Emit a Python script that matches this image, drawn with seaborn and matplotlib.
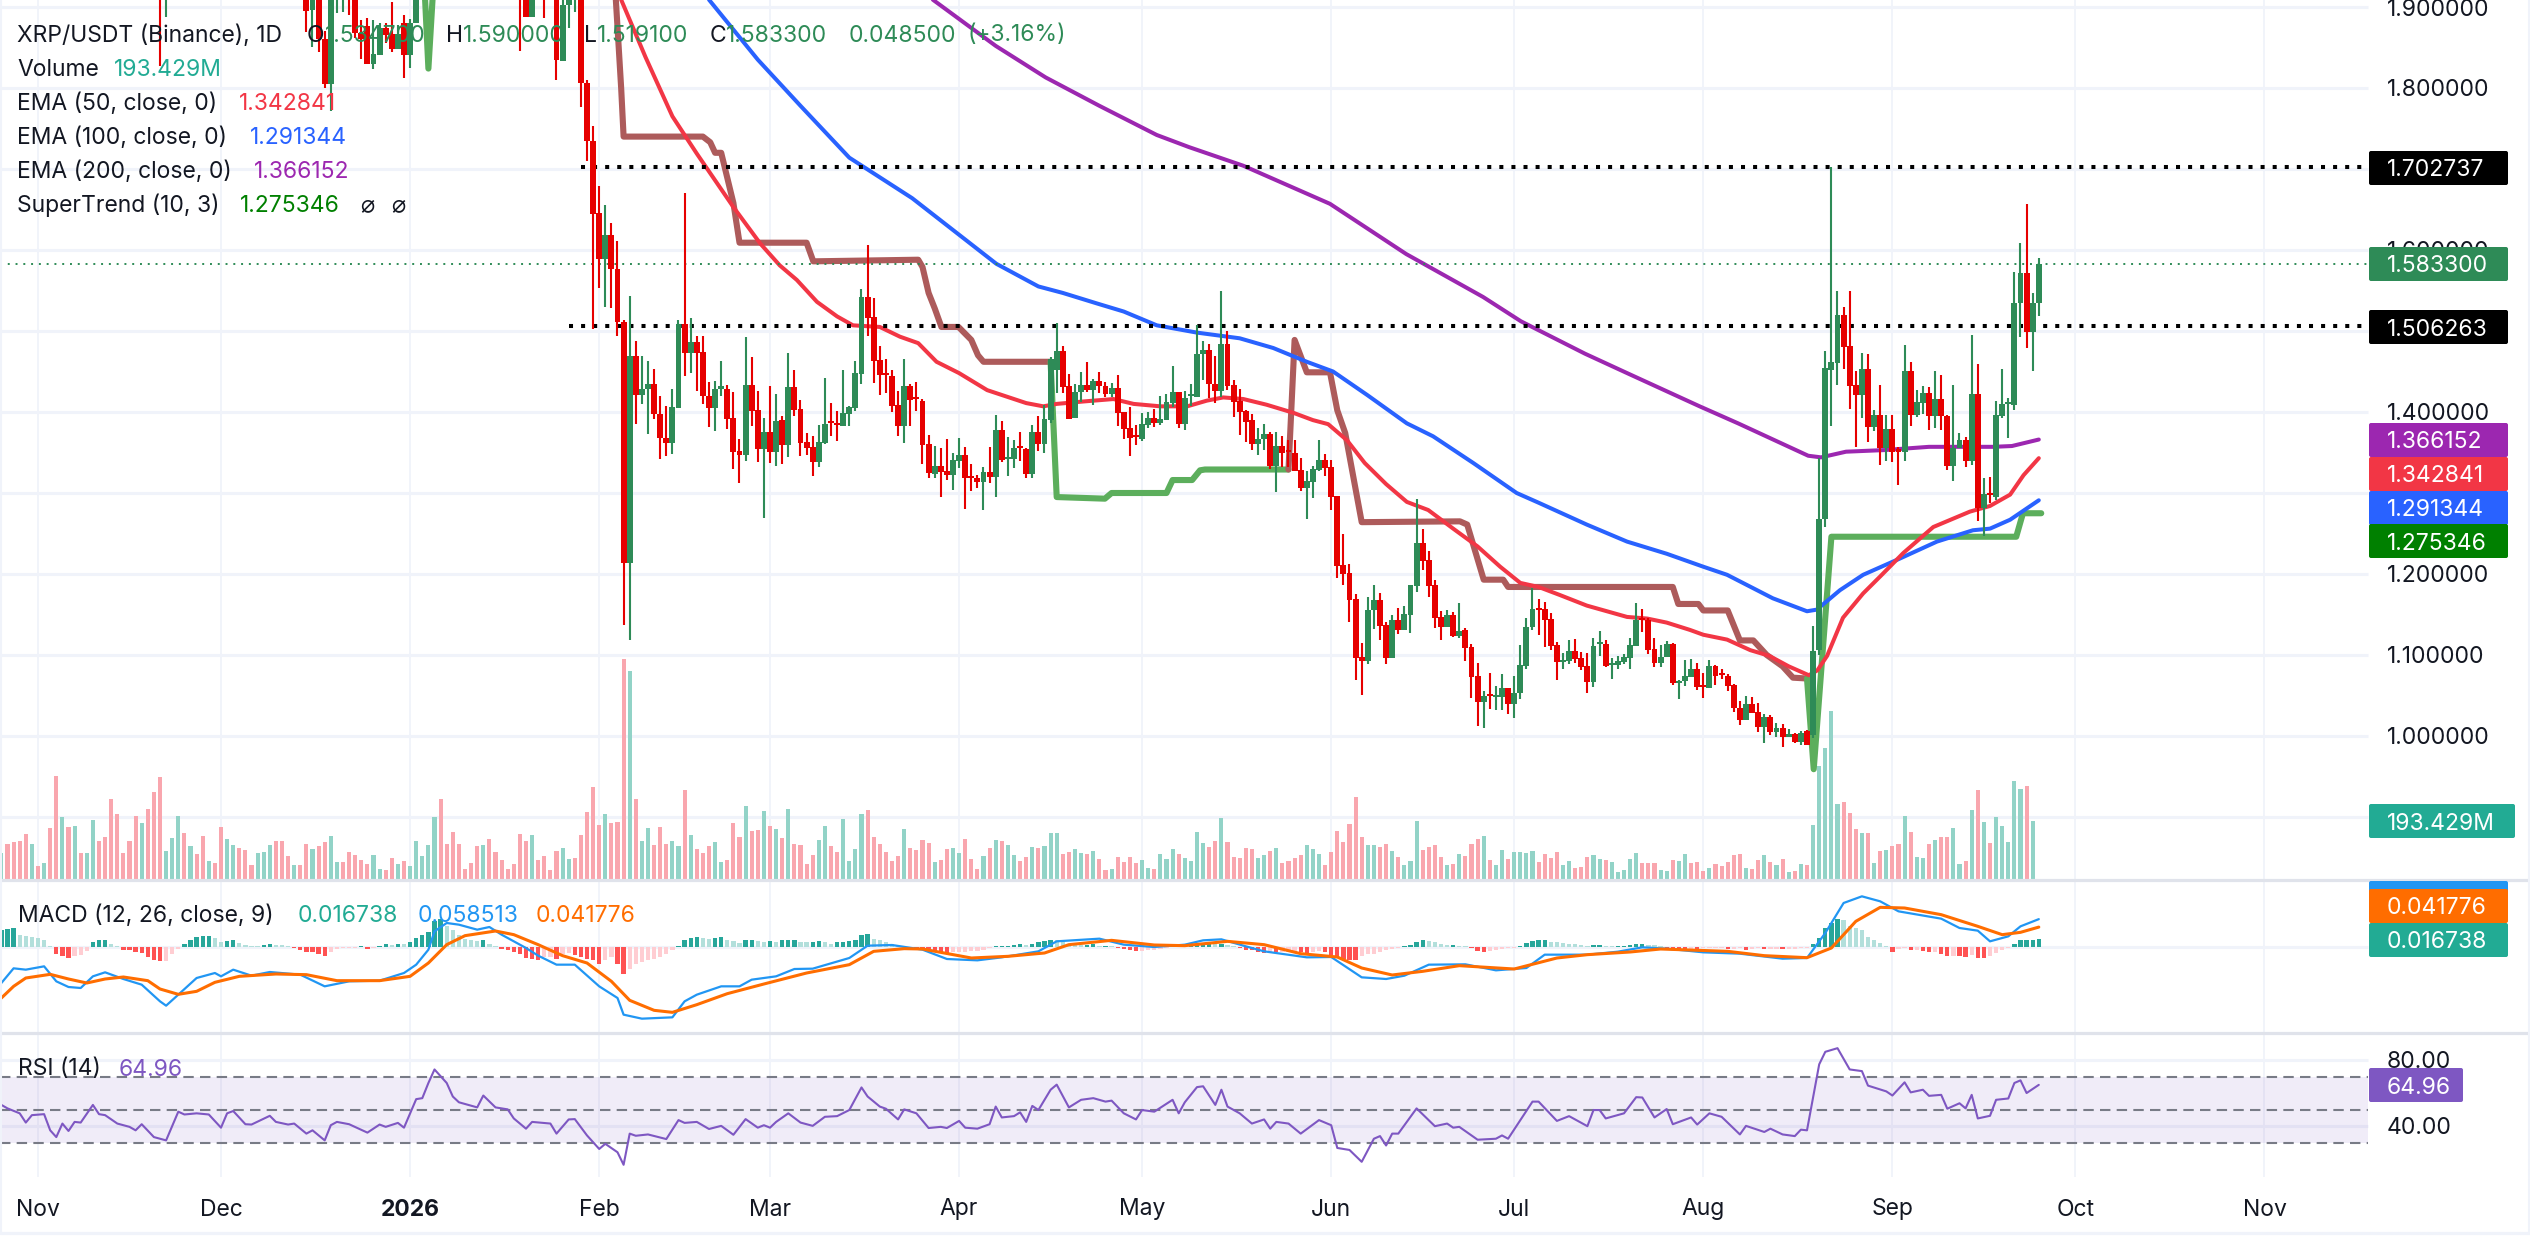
import numpy as np
import matplotlib
matplotlib.use("Agg")
import matplotlib.pyplot as plt
import seaborn as sns
from matplotlib.patches import FancyBboxPatch
from matplotlib.lines import Line2D
from matplotlib.transforms import Affine2D

nan = float("nan")
W, H = 2530, 1253
PX_PER_DAY = 6.1
X0_PX = 38

# ---------- data: day number counted from 1 Nov 2025 ----------
candle_first_day = 20
opens = [1.95, 1.93] + [nan]*22 + [
 1.92,1.896,1.92,1.861,1.805,1.92,1.93,1.95,1.91,1.868,
 1.876,1.830,1.841,1.874,1.867,1.848,1.880,1.841,1.880] + [nan]*16 + [
 1.95,1.93,1.888,nan,1.95,nan,1.93,1.833,1.902,1.92,1.95,1.806,
 1.735,1.646,1.589,1.619,1.577,1.511,1.214,1.469,1.421,1.429,
 1.435,1.398,1.368,1.362,1.405,1.509,1.473,1.486,1.474,1.420,
 1.405,1.429,1.429,1.392,1.352,1.347,1.433,1.402,1.354,1.375,
 1.351,1.390,1.359,1.431,1.404,1.363,1.357,1.338,1.362,1.387,
 1.385,1.383,1.398,1.405,1.447,1.542,1.517,1.464,1.447,1.444,
 1.409,1.383,1.432,1.417,1.414,1.360,1.324,1.333,1.327,1.322,
 1.340,1.347,1.320,1.319,1.314,1.326,1.320,1.378,1.342,1.342,
 1.356,1.354,1.324,1.375,1.360,1.390,1.452,1.475,1.432,1.393,
 1.425,1.433,1.427,1.438,1.432,1.422,1.430,1.400,1.380,1.370,
 1.367,1.384,1.393,1.386,1.390,1.411,1.425,1.385,1.420,1.419,
 1.472,1.477,1.435,1.426,1.484,1.433,1.414,1.401,1.390,1.361,
 1.367,1.373,1.333,1.358,1.351,1.349,1.328,1.306,1.314,1.328,
 1.341,1.332,1.296,1.211,1.201,1.169,1.098,1.093,1.155,1.168,
 1.137,1.096,1.143,1.131,1.149,1.185,1.238,1.217,1.186,1.147,
 1.135,1.149,1.123,1.131,1.110,1.074,1.042,1.050,1.048,1.048,
 1.059,1.040,1.053,1.087,1.134,1.157,1.157,1.144,1.112,1.091,
 1.093,1.105,1.096,1.086,1.067,1.113,1.114,1.088,1.088,1.091,
 1.096,1.111,1.144,1.143,1.107,1.090,1.097,1.114,1.065,1.068,
 1.073,1.083,1.062,1.059,1.086,1.076,1.074,1.063,1.035,1.020,
 1.040,1.030,1.011,1.023,1.005,1.010,0.999,1.002,0.993,1.006,
 1.001,1.106,1.268,1.452,1.461,1.520,1.481,1.433,1.421,1.453,
 1.382,1.396,1.356,1.379,1.354,1.351,1.451,1.396,1.411,1.423,
 1.395,1.416,1.395,1.333,1.356,1.366,1.340,1.422,1.281,1.298,
 1.295,1.395,1.410,1.409,1.535,1.572,1.499,1.534]
highs = [1.96, 1.96] + [nan]*22 + [
 1.93,1.94,1.93,1.87,1.94,1.96,1.95,1.96,1.92,1.884,
 1.887,1.884,1.880,1.880,1.906,1.878,1.89,1.885,1.94] + [nan]*16 + [
 1.96,1.94,1.94,nan,1.96,nan,1.94,1.92,1.93,1.94,1.96,1.81,
 1.753,1.679,1.656,1.633,1.611,1.514,1.543,1.488,1.469,1.463,
 1.453,1.420,1.407,1.428,1.514,1.670,1.516,1.494,1.494,1.437,
 1.438,1.463,1.433,1.425,1.367,1.493,1.468,1.426,1.393,1.432,
 1.422,1.395,1.473,1.452,1.415,1.374,1.370,1.384,1.442,1.411,
 1.401,1.452,1.407,1.463,1.552,1.606,1.541,1.481,1.465,1.452,
 1.426,1.465,1.435,1.437,1.416,1.372,1.358,1.356,1.367,1.349,
 1.368,1.357,1.336,1.322,1.332,1.357,1.396,1.389,1.369,1.365,
 1.375,1.356,1.384,1.395,1.409,1.468,1.510,1.482,1.447,1.435,
 1.449,1.462,1.441,1.449,1.437,1.436,1.446,1.400,1.406,1.384,
 1.399,1.400,1.404,1.420,1.422,1.457,1.425,1.426,1.435,1.507,
 1.488,1.484,1.469,1.549,1.500,1.440,1.428,1.402,1.398,1.380,
 1.385,1.375,1.375,1.370,1.365,1.365,1.343,1.327,1.333,1.365,
 1.348,1.341,1.296,1.249,1.212,1.175,1.115,1.172,1.186,1.177,
 1.141,1.149,1.158,1.161,1.186,1.293,1.256,1.228,1.193,1.154,
 1.156,1.153,1.164,1.133,1.114,1.090,1.056,1.078,1.062,1.077,
 1.059,1.074,1.112,1.146,1.183,1.169,1.165,1.152,1.116,1.102,
 1.118,1.120,1.104,1.102,1.121,1.130,1.118,1.096,1.099,1.101,
 1.121,1.164,1.157,1.146,1.121,1.112,1.117,1.115,1.069,1.094,
 1.095,1.090,1.078,1.094,1.088,1.083,1.077,1.064,1.043,1.049,
 1.048,1.041,1.027,1.026,1.016,1.015,1.009,1.004,1.006,1.008,
 1.136,1.343,1.475,1.703,1.549,1.530,1.549,1.451,1.473,1.472,
 1.403,1.433,1.396,1.396,1.357,1.483,1.462,1.427,1.432,1.431,
 1.451,1.446,1.396,1.433,1.374,1.369,1.495,1.459,1.319,1.320,
 1.414,1.453,1.417,1.573,1.609,1.657,1.547,1.590]
lows = [1.827, 1.888] + [nan]*22 + [
 1.869,1.851,1.845,1.800,1.771,1.893,1.894,1.890,1.862,1.836,
 1.830,1.823,1.841,1.855,1.844,1.848,1.812,1.825,1.880] + [nan]*16 + [
 1.846,1.888,1.888,nan,1.887,nan,1.810,1.833,1.874,1.894,1.777,1.710,
 1.503,1.553,1.530,1.528,1.494,1.137,1.119,1.385,1.410,1.373,
 1.391,1.342,1.346,1.348,1.405,1.444,1.448,1.426,1.410,1.382,
 1.377,1.420,1.379,1.330,1.312,1.340,1.383,1.338,1.269,1.337,
 1.333,1.336,1.344,1.395,1.346,1.347,1.321,1.332,1.360,1.370,
 1.364,1.383,1.383,1.401,1.435,1.494,1.436,1.421,1.423,1.400,
 1.370,1.362,1.383,1.401,1.336,1.319,1.319,1.295,1.316,1.304,
 1.331,1.280,1.302,1.306,1.279,1.312,1.295,1.338,1.321,1.331,
 1.340,1.319,1.319,1.352,1.349,1.387,1.423,1.424,1.391,1.393,
 1.412,1.425,1.409,1.424,1.419,1.419,1.383,1.367,1.346,1.359,
 1.364,1.380,1.381,1.384,1.390,1.406,1.380,1.378,1.407,1.419,
 1.440,1.417,1.411,1.419,1.427,1.394,1.372,1.363,1.353,1.347,
 1.353,1.330,1.301,1.332,1.332,1.327,1.303,1.268,1.294,1.327,
 1.321,1.279,1.195,1.186,1.141,1.069,1.051,1.089,1.132,1.119,
 1.089,1.096,1.126,1.131,1.127,1.178,1.205,1.172,1.133,1.119,
 1.135,1.122,1.121,1.093,1.047,1.012,1.010,1.033,1.032,1.032,
 1.027,1.022,1.046,1.083,1.131,1.125,1.110,1.106,1.069,1.083,
 1.089,1.090,1.081,1.053,1.060,1.099,1.085,1.070,1.083,1.089,
 1.083,1.111,1.128,1.101,1.085,1.085,1.097,1.063,1.046,1.062,
 1.073,1.057,1.047,1.059,1.063,1.070,1.056,1.030,1.014,1.020,
 1.028,1.005,0.991,1.001,0.999,0.986,0.999,0.991,0.989,0.989,
 0.997,1.100,1.258,1.383,1.433,1.453,1.404,1.357,1.393,1.363,
 1.377,1.335,1.340,1.338,1.310,1.340,1.383,1.394,1.398,1.378,
 1.380,1.378,1.328,1.315,1.356,1.332,1.335,1.265,1.247,1.288,
 1.291,1.393,1.368,1.403,1.493,1.479,1.451,1.519]
closes = [1.93, 1.95] + [nan]*22 + [
 1.895,1.93,1.861,1.805,1.93,1.95,1.94,1.91,1.868,1.860,
 1.830,1.842,1.874,1.865,1.848,1.867,1.841,1.880,1.93] + [nan]*16 + [
 1.92,1.888,1.93,nan,1.93,nan,1.834,1.902,1.92,1.93,1.806,1.734,
 1.645,1.589,1.619,1.577,1.511,1.214,1.469,1.421,1.429,1.435,
 1.398,1.368,1.362,1.406,1.509,1.473,1.486,1.473,1.420,1.405,
 1.428,1.430,1.391,1.351,1.347,1.433,1.401,1.354,1.375,1.351,
 1.389,1.359,1.431,1.402,1.362,1.356,1.338,1.363,1.385,1.386,
 1.384,1.399,1.406,1.448,1.542,1.516,1.463,1.446,1.446,1.407,
 1.383,1.432,1.415,1.416,1.359,1.325,1.333,1.326,1.322,1.341,
 1.347,1.319,1.319,1.314,1.326,1.320,1.378,1.341,1.344,1.356,
 1.355,1.324,1.375,1.360,1.391,1.465,1.475,1.431,1.391,1.425,
 1.433,1.427,1.438,1.432,1.422,1.430,1.399,1.379,1.368,1.369,
 1.385,1.393,1.386,1.391,1.412,1.425,1.385,1.417,1.420,1.472,
 1.477,1.435,1.426,1.484,1.432,1.412,1.400,1.388,1.361,1.367,
 1.373,1.333,1.358,1.349,1.350,1.327,1.306,1.315,1.330,1.341,
 1.331,1.295,1.210,1.200,1.168,1.096,1.093,1.156,1.168,1.136,
 1.096,1.143,1.131,1.151,1.186,1.238,1.216,1.185,1.146,1.135,
 1.149,1.123,1.130,1.109,1.073,1.042,1.049,1.049,1.049,1.059,
 1.040,1.053,1.088,1.135,1.157,1.156,1.143,1.111,1.091,1.094,
 1.105,1.095,1.085,1.067,1.111,1.114,1.086,1.089,1.092,1.097,
 1.112,1.143,1.143,1.106,1.090,1.097,1.114,1.065,1.068,1.074,
 1.083,1.061,1.061,1.086,1.074,1.075,1.062,1.035,1.020,1.040,
 1.028,1.011,1.023,1.005,1.010,0.999,1.002,0.993,1.004,0.989,
 1.105,1.268,1.454,1.462,1.520,1.480,1.432,1.421,1.453,1.382,
 1.396,1.356,1.379,1.351,1.351,1.451,1.396,1.412,1.423,1.395,
 1.416,1.395,1.333,1.356,1.366,1.340,1.422,1.281,1.299,1.297,
 1.396,1.410,1.411,1.535,1.572,1.499,1.535,1.5833]

# volume in millions, from day -6 to day 327
volume_first_day = -6
volume_m = [
 88,118,125,128,151,118,44,54,171,345, 208,175,178,88,88,198,128,141,268,218,
 88,128,211,188,235,291,341,95,138,211, 155,111,85,145,61,54,175,135,115,105,
 98,48,88,91,115,128,128,78,48,48, 118,101,111,125,145,58,58,91,81,64,
 51,81,34,31,71,51,61,44,128,78, 115,208,268,118,158,118,34,54,111,115,
 135,91,64,34,51,151,128,148,64,78, 31,95,105,68,71,148,225,308,181,218,
 188,191,732,695,268,128,171,115,175,118, 128,111,298,148,101,88,111,125,58,64,
 188,141,245,161,165,228,178,168,138,235, 118,115,51,81,131,178,111,91,201,61,
 101,218,231,141,118,91,61,78,168,105, 98,131,121,58,64,101,105,88,135,68,
 34,78,105,131,128,115,81,61,75,108, 105,111,
 153,153,83,90,100,87,83,93,67,30, 33,73,57,73,53,63,37,33,83,67,
 100,83,70,60,157,120,107,127,204,123, 73,70,103,100,70,80,93,103,53,60,
 70,80,113,100,83,47,90,160,123,183, 274,140,113,113,107,117,93,73,47,60,
 194,97,107,113,73,47,50,83,77,117, 133,143,63,47,97,67,90,90,87,93,
 57,83,70,90,47,60,37,40,73,80, 67,63,57,23,30,67,87,53,53,53,
 30,27,63,60,83,53,57,27,37,50, 43,57,80,83,37,33,63,80,57,47,
 67,23,27,50,47,180,377,437,560,250, 256,220,167,153,153,53,93,97,110,117,
 210,157,73,70,117,130,140,140,170,50, 60,230,297,190,120,207,177,123,327,300,310,194]
volume_dir = ("grrrrgrgrr" "grgrggrrrr" "rrrgrrrggg" "rgrrgrrggr" "rrgggrrrgr" "rgrrggrrrr"
              "rggrrgrggg" "ggrrrrrrrg" "rrrrrrrgrr" "rrggrrrrrg" "rrrgrggrrr" "ggrgrrrggr"
              "rrgrrgrgrg" "rrrrggrrgg" "ggrrrrrrgr" "rrrgrrggrr" "rgrgrggrrg" "rg"
              "ggrrggrgrr" "grrrrggrgg" "grggggrrgr" "rrrrggrgrr" "rrgggrrrrr" "rrggrrgrgg"
              "grrrrgrgrr" "rgrggrgggg" "rrrrggrrrg" "grgggggrrr" "ggrggrrrgr" "rrrrgrrgrg"
              "rgrgrggggg" "rrrgrgrgrr" "grggrgrrgg" "rgrgrgggggrg")

# MACD in units of 0.0001, daily from day -6 to day 328
macd_hist_e4 = [
 350,385,399,245,224,210,196,154,21, -154,-196,-224,-196,-175,-84, 98,140,140,70,14,
 -56,-70,-105,-126,-210,-266,-294,-294,-154,-35,
 56,154,210,224,231,196,98,119,154,84,42,28,21,42,56,42,35,21,
 -14,-56,-98,-112,-140,-182,-98,-49,-28,-14,-14,
 14,-42,-14,28,56,49,63,56,98,196,252,315,546,595,434,350,245,175,140,126,154,56,28,
 -42,-70,-105,-154,-224,-245,-266,-210,-210,-245,-140,-126,-175,-210,-245,-280,-350,-266,-210,-350,
 -560,-455,-350,-315,-280,-245,-210,-140,-56,
 21,154,196,210,196,175,189,210,154,126,84,154,154,126,112,126,98,140,154,154,112,98,105,126,98,70,98,112,126,140,
 245,266,175,140,98,56,28,14,0,
 -14,-70,-98,-112,-126,-140,-112,-98,-98,-84,-84,-70,-28,
 21,28,28,42,56,42,70,112,126,154,140,98,70,56,35,35,56,28,28,21,
 -14,-42,-70,-84,-84,-70,-56,-42,-21,
 28,14,14,35,56,70,70,56,63,42,14,
 -28,-56,-70,-98,-126,
 -105,-112,-112,-98,-98,-112,-126,-105,-84,-105,-175,-196,-245,-266,-280,-196,-154,-140,-98,-70,-42,-28,
 14,42,112,140,126,98,70,49,49,28,21,
 -28,-84,-98,-84,-56,-42,-28,-14,
 28,84,126,140,154,112,98,84,70,56,42,28,42,42,28,21,21,21,42,63,63,42,35,21,
 -14,-28,-35,-42,-42,-56,-21,-21,-14,-14,-42,-42,-28,-56,-42,-28,-42,-35,-35,-42,-42,-42,-28,-14,
 56,196,406,504,595,560,434,406,364,210,154,84,14,
 -98,-42,-28,-70,-70,-84,-98,-98,-140,-182,-182,-196,-210,-168,-224,-238,-196,-126,-56,-28,
 56,140,140,154,167]
macd_days = [-6,-4,-2,1,3,5,7,9,11,14,17,20,21,23,26,29,30,32,35,38,43,47,51,56,60,62,64,65,67,69,72,74,76,80,82,85,88,92,95,96,99,
 104,106,108,112,115,117,121,124,127,133,136,140,145,149,154,158,164,167,174,178,183,188,191,194,198,201,
 208,212,217,221,224,228,234,239,244,247,254,259,263,267,273,279,286,290,293,296,299,302,305,312,315,318,320,323,325,328]
macd_e4 = [-756,-448,-476,-406,-721,-840,-861,-616,-532,-672,-791,-1141,-1232,-1001,-651,-546,-616,-476,-602,-525,-581,-826,-721,-707,-546,-371,-56,329,504,469,364,420,259,-21,-182,-371,-371,-826,-1071,-1421,-1505,
 -1477,-1141,-1001,-826,-826,-686,-616,-462,-455,-231,28,42,-56,-252,-280,-217,-91,119,175,49,0,49,140,161,14,-91,
 -217,-210,-637,-672,-602,-371,-364,-490,-441,-161,-161,-98,-7,-35,-112,-140,-245,-231,294,924,1064,959,749,595,399,343,119,224,434,585]
signal_days = [-6,-4,-2,2,5,8,11,14,18,20,23,26,29,33,39,44,49,56,61,64,67,70,75,78,82,86,90,94,97,101,104,108,113,119,126,133,137,142,145,153,159,165,169,176,183,188,195,201,
 207,213,217,222,227,233,242,249,254,261,266,277,283,290,294,298,302,306,312,318,322,325,328]
signal_e4 = [-1071,-826,-651,-574,-672,-756,-672,-630,-707,-882,-994,-931,-742,-616,-567,-581,-707,-707,-616,-336,49,238,336,259,49,-182,-336,-721,-1120,-1330,-1372,-1211,-980,-777,-546,-371,-91,-35,-42,-231,-196,-126,49,140,42,28,119,49,
 -140,-210,-441,-588,-511,-392,-462,-231,-161,-105,-42,-91,-182,-224,-21,539,833,819,679,434,259,308,418]

# RSI
rsi_days = [-6,-5,-3,-2,-1,1,2,3,4,5,6,7,9,10,11,13,15,16,17,19,21,23,24,26,28,30,31,32,34,35,38,39,41,42,44,45,47,48,49,51,54,56,57,59,60,62,63,64,65,67,68,69,72,73,75,77,78,80,81,84,85,87,88,90,92,93,95,96,97,98,100,103,105,106,108,110,112,114,116,118,119,120,121,123,125,127,129,131,133,135,136,138,139,141,142,144,146,148,149,151,152,154,156,157,158,160,161,162,163,164,166,167,169,171,173,175,176,178,180,181,183,186,187,188,190,191,193,194,195,197,199,201,
 202,203,205,207,210,212,213,215,217,219,220,221,222,223,226,229,231,232,233,236,239,240,241,245,246,249,251,254,255,256,257,260,262,263,265,267,268,271,272,274,276,279,280,283,284,286,288,289,290,292,293,295,297,299,300,303,304,306,307,309,310,312,313,315,316,317,318,320,321,323,324,325,326,328]
rsi_vals = [52.8,50.7,47.7,42.1,46.6,47.2,37.4,33.3,41.5,37.0,42.5,42.1,52.8,47.2,46.6,41.5,39.5,37.4,41.1,33.3,31.3,48.7,47.0,47.7,47.0,39.0,47.7,49.1,41.1,40.9,46.2,42.5,40.9,41.5,35.4,37.4,31.3,40.5,42.5,41.1,36.0,40.9,39.5,41.9,39.0,56.3,56.9,66.1,74.3,66.1,57.9,54.4,51.3,58.5,51.3,50.1,44.6,38.4,42.5,41.5,35.4,44.0,44.2,34.3,26.1,29.2,24.1,16.5,35.4,34.1,34.9,32.1,43.6,41.9,42.5,38.2,40.1,34.7,44.2,39.0,40.5,39.0,42.5,47.7,42.1,40.1,45.6,46.0,49.7,63.4,57.9,51.8,50.5,44.0,50.1,47.7,38.8,39.5,38.8,43.1,39.0,38.4,41.1,51.8,45.2,46.0,48.3,42.5,52.2,49.7,62.0,65.1,51.3,55.9,56.9,54.8,55.4,47.7,44.0,49.7,48.7,55.9,47.7,54.4,63.6,64.1,52.8,62.0,51.8,47.7,41.5,44.0,
 38.4,42.5,41.5,35.4,43.6,40.5,26.7,25.5,18.3,32.3,33.9,28.2,35.4,35.4,50.7,39.9,41.5,39.0,39.5,31.7,32.3,34.3,32.3,54.8,54.8,43.1,46.0,39.9,49.7,49.7,44.6,47.7,57.5,57.3,45.2,50.3,41.1,45.2,40.9,47.7,45.6,34.9,40.1,36.4,38.4,34.9,33.9,37.8,37.4,77.4,85.0,87.2,74.3,73.3,64.5,61.0,58.5,66.5,60.4,62.0,58.3,58.9,50.5,53.8,50.7,58.9,44.6,46.2,55.9,56.7,66.1,67.7,60.0,64.96]

# moving averages
ema50_days = [95.6,99.6,104,108,114,118.4,121.6,124.4,127.7,131,133.6,138,141.3,144.3,147.3,151,155.6,162,164.8,167,171.4,176.3,179.6,184,188.4,191.6,194.3,197.6,201.4,205.8,209,211.5,214.6,217.5,221,224.4,227.9,232,236,239.7,243,246,249.5,253.9,257.2,260.5,263.8,267,270.8,273,276.9,280.7,283.8,287,290.3,291.7,293.3,295.9,299.2,302,305.8,310.7,316.7,320,323.3,325.5,328]
ema50_vals = [1.909,1.838,1.765,1.719,1.653,1.608,1.581,1.563,1.536,1.518,1.507,1.505,1.493,1.485,1.462,1.448,1.427,1.411,1.407,1.410,1.413,1.416,1.410,1.407,1.407,1.414,1.418,1.416,1.409,1.399,1.390,1.385,1.365,1.337,1.311,1.289,1.279,1.256,1.234,1.209,1.189,1.184,1.174,1.161,1.154,1.147,1.145,1.140,1.131,1.125,1.119,1.106,1.099,1.086,1.075,1.081,1.099,1.146,1.176,1.197,1.226,1.258,1.277,1.284,1.298,1.322,1.343]
ema100_days = [110,118,125,133,143.3,157.1,164,168,173.6,178,183.4,190,197,202.5,208,212.3,217.9,224.4,228.7,235.3,242.4,246,253.9,260.5,267,273,276.9,284.4,290,291.6,295.4,299.2,305.2,311.3,317.2,320,323.3,328]
ema100_vals = [1.909,1.835,1.778,1.714,1.664,1.583,1.555,1.547,1.534,1.524,1.507,1.498,1.491,1.479,1.462,1.450,1.421,1.386,1.370,1.337,1.300,1.288,1.261,1.240,1.225,1.209,1.199,1.170,1.154,1.156,1.180,1.199,1.219,1.240,1.254,1.256,1.267,1.291]
ema200_days = [146.7,157,165.2,174,183.4,188.7,197.6,211.8,224.3,236.9,243.1,253.6,260.8,272.4,278.7,290.2,292.3,296.4,302.7,310,320.5,323.6,328]
ema200_vals = [1.909,1.852,1.813,1.778,1.742,1.727,1.704,1.657,1.595,1.542,1.512,1.472,1.447,1.407,1.386,1.346,1.344,1.351,1.353,1.357,1.357,1.358,1.366]

# SuperTrend pieces
st_up1_days = [63.2,64,65]
st_up1_vals = [1.95,1.824,1.95]
st_dn1_days = [94.4,95.6,96,109,110.2,111,112,114,115,126,127.1,144.3,145,146,147,148.1,150.9,153,154.1,155,166]
st_dn1_vals = [1.95,1.80,1.740,1.740,1.733,1.720,1.720,1.658,1.609,1.609,1.586,1.588,1.579,1.547,1.528,1.505,1.505,1.489,1.470,1.462,1.462]
st_up2_days = [166,167,174.9,176,185,186,189.2,190.5,191.3,205]
st_up2_vals = [1.462,1.295,1.293,1.300,1.300,1.316,1.316,1.328,1.329,1.329]
st_dn2_days = [205,206,208,211.8,213,214.3,217,233.1,234.3,237,240.2,241,268,268.9,272.2,273,277,279,281.2,283.4,286,287.7,290]
st_dn2_vals = [1.329,1.489,1.449,1.449,1.402,1.374,1.264,1.265,1.261,1.193,1.193,1.184,1.184,1.163,1.163,1.155,1.155,1.118,1.118,1.100,1.086,1.072,1.071]
st_up3_days = [290,291.1,294,324.3,325.4,328.4]
st_up3_vals = [1.071,0.959,1.246,1.246,1.275,1.275]

level_high = 1.702737
level_low = 1.506263
level_high_start = 89
level_low_start = 87
last_price = 1.5833

month_days = [0,30,61,92,120,151,181,212,242,273,304,334,365]
month_labels = ["Nov","Dec","2026","Feb","Mar","Apr","May","Jun","Jul","Aug","Sep","Oct","Nov"]
price_grid = [0.9,1.0,1.1,1.2,1.3,1.4,1.5,1.6,1.7,1.8,1.9]
price_ticks = [1.0,1.1,1.2,1.4,1.6,1.8,1.9]
rsi_ticks = [40,80]

# ---------- style ----------
sns.set_theme(style="white")
plt.rcParams["font.family"] = ["Inter", "DejaVu Sans"]
UP = "#2e8b57"; DN = "#e60000"
VOL_UP = "#92d3c7"; VOL_DN = "#f9a6ae"
GRID = "#f0f3fa"; SEP = "#e0e3eb"
INK = "#131722"
FS = 16.5

fig = plt.figure(figsize=(W/100, H/100), dpi=100, facecolor="white")
px = Affine2D().scale(1/W, -1/H).translate(0, 1) + fig.transFigure

def pane(top, bottom, z):
    a = fig.add_axes([0, 1-bottom/H, 1, (bottom-top)/H], zorder=z)
    a.patch.set_alpha(0)
    return a

ax_grid = pane(0, 880, 0)
ax_vol = pane(0, 880, 1)
ax = pane(0, 880, 2)
ax_macd = pane(880, 1033, 2)
ax_rsi = pane(1033, 1177, 2)

XMIN = -X0_PX/PX_PER_DAY
XMAX = (W-X0_PX)/PX_PER_DAY
XAXIS = (2368-X0_PX)/PX_PER_DAY
PMIN, PMAX = 1+(736-880)/810, 1+736/810

# grid
for a in (ax_grid, ax_macd, ax_rsi):
    a.vlines(month_days, 0, 1, color=GRID, lw=1.3, transform=a.get_xaxis_transform(), zorder=0)
ax_grid.hlines(price_grid, XMIN, XAXIS, color=GRID, lw=2.2)
ax_macd.hlines([0], XMIN, XAXIS, color=GRID, lw=2.2, zorder=0)
ax_rsi.hlines(rsi_ticks, XMIN, XAXIS, color=GRID, lw=2.2, zorder=0)

# volume
vx = np.arange(len(volume_m)) + volume_first_day
vc = [VOL_UP if c == "g" else VOL_DN for c in volume_dir]
ax_vol.bar(vx, volume_m, width=0.68, color=vc, linewidth=0)

# lines under candles
def line(a, xs, ys, color, lw, z=2):
    sns.lineplot(x=xs, y=ys, ax=a, color=color, linewidth=lw, sort=False, estimator=None,
                 legend=False, zorder=z, solid_joinstyle="round", solid_capstyle="round")

ST_DN = "#ad5b5b"; ST_UP = "#5cae5c"
line(ax, st_up1_days, st_up1_vals, ST_UP, 4.4)
line(ax, st_dn1_days, st_dn1_vals, ST_DN, 4.4)
line(ax, st_up2_days, st_up2_vals, ST_UP, 4.4)
line(ax, st_dn2_days, st_dn2_vals, ST_DN, 4.4)
line(ax, st_up3_days, st_up3_vals, ST_UP, 4.4)
line(ax, ema200_days, ema200_vals, "#9c27b0", 2.9)
line(ax, ema100_days, ema100_vals, "#2962ff", 2.9)
line(ax, ema50_days, ema50_vals, "#f23645", 2.9)

ax.plot([level_high_start, XAXIS], [level_high]*2, color="black", lw=2.9,
        linestyle=(0, (1, 2)), dash_capstyle="butt", zorder=2)
ax.plot([level_low_start, XAXIS], [level_low]*2, color="black", lw=2.9,
        linestyle=(0, (1, 2)), dash_capstyle="butt", zorder=2)
ax.plot([XMIN, XAXIS], [last_price]*2, color=UP, lw=1.4,
        linestyle=(0, (1, 3)), dash_capstyle="butt", zorder=2)

# candles
cx = np.arange(len(closes)) + candle_first_day
o, h, l, c = map(np.array, (opens, highs, lows, closes))
ok = ~np.isnan(c)
colors = np.where(c >= o, UP, DN)
ax.vlines(cx[ok], l[ok], h[ok], colors=colors[ok], lw=1.5, zorder=3)
bottom = np.minimum(o, c)
height = np.maximum(np.abs(c-o), 0.0025)
ax.bar(cx[ok], height[ok], bottom=bottom[ok], width=0.96, color=colors[ok], linewidth=0, zorder=4)

# MACD
hist = np.array(macd_hist_e4)/1e4
hx = np.arange(len(hist)) - 6
prev = np.r_[hist[0], hist[:-1]]
hc = np.where(hist >= 0, np.where(hist >= prev, "#26a69a", "#b2dfdb"),
              np.where(hist < prev, "#ff5252", "#ffcdd2"))
ax_macd.bar(hx, hist, width=0.72, color=hc, linewidth=0, zorder=1)
line(ax_macd, macd_days, np.array(macd_e4)/1e4, "#2196f3", 1.6, 2)
line(ax_macd, signal_days, np.array(signal_e4)/1e4, "#ff6d00", 2.2, 3)

# RSI
ax_rsi.fill_between([XMIN, XAXIS], 30, 70, color="#7e57c2", alpha=0.11, linewidth=0, zorder=0)
for lv in (70, 50, 30):
    ax_rsi.plot([XMIN, XAXIS], [lv, lv], color="#787b86", lw=1.5, linestyle=(0, (5, 3)), zorder=1)
line(ax_rsi, rsi_days, rsi_vals, "#7e57c2", 1.5, 3)

# limits and clean up
for a in (ax_grid, ax_vol, ax, ax_macd, ax_rsi):
    a.set_xlim(XMIN, XMAX)
    a.set_axis_off()
ax_grid.set_ylim(PMIN, PMAX)
ax.set_ylim(PMIN, PMAX)
ax_vol.set_ylim(-3.3, 2930)
ax_macd.set_ylim(-0.1806, 0.1407)
ax_rsi.set_ylim(9.1, 96.4)

# pane separators
for y, lw_, col in ((880, 2.3, SEP), (1033, 2.3, SEP), (1233, 2.3, GRID)):
    fig.add_artist(Line2D([0, W], [y, y], transform=px, color=col, lw=lw_, zorder=4))
fig.add_artist(Line2D([W-1.5, W-1.5], [0, 1233], transform=px, color=GRID, lw=1.5, zorder=4))
fig.add_artist(Line2D([1, 1], [0, 1233], transform=px, color=GRID, lw=1.5, zorder=4))

def txt(x, y, s, color=INK, weight="normal", ha="left", size=FS, z=7):
    fig.text(x, y, s, transform=px, color=color, fontsize=size, fontweight=weight,
             ha=ha, va="center_baseline", zorder=z)

def tag(y, s, color, right=2508, top=None, bot=None):
    t = y-17 if top is None else top
    b = y+17 if bot is None else bot
    fig.add_artist(FancyBboxPatch((2369, t), right-2369, b-t, transform=px, linewidth=0, facecolor=color,
                                  boxstyle="round,pad=0,rounding_size=2", zorder=5))
    if s:
        txt(2387, (t+b)/2 if top is None else y, s, "white", z=6)

# axis labels
for v in price_ticks:
    txt(2387, 736-(v-1)*810, f"{v:.6f}", z=4)
txt(2387, 1060, "80.00", z=4)
txt(2387, 1126, "40.00", z=4)
for d, lab in zip(month_days, month_labels):
    txt(X0_PX+PX_PER_DAY*d, 1207, lab, weight="bold" if lab == "2026" else "normal", ha="center")

# price tags
tag(168, "1.702737", "#000000")
tag(264, "1.583300", UP)
tag(327, "1.506263", "#000000")
tag(440, "1.366152", "#9c27b0")
tag(474, "1.342841", "#f23645")
tag(508, "1.291344", "#2962ff")
tag(541, "1.275346", "#008000")
tag(821, "193.429M", "#22ab94", right=2515)
tag(0, "", "#2196f3", top=881, bot=892)
tag(906, "0.041776", "#ff6d00")
tag(940, "0.016738", "#22ab94")
tag(1085, "64.96", "#7e57c2", right=2463)

# legends
TV_UP = "#2e8b57"
txt(17, 33, "XRP/USDT (Binance), 1D")
for x, lab, x2, val in ((307, "O", 325, "1.534700"), (446, "H", 463, "1.590000"),
                        (584, "L", 597, "1.519100"), (710, "C", 726, "1.583300")):
    txt(x, 33, lab); txt(x2, 33, val, TV_UP)
txt(849, 33, "0.048500", TV_UP)
txt(968, 33, "(+3.16%)", TV_UP)
txt(17, 67, "Volume"); txt(114, 67, "193.429M", "#22ab94")
txt(17, 101, "EMA (50, close, 0)"); txt(239, 101, "1.342841", "#f23645")
txt(17, 135, "EMA (100, close, 0)"); txt(250, 135, "1.291344", "#2962ff")
txt(17, 169, "EMA (200, close, 0)"); txt(254, 169, "1.366152", "#9c27b0")
txt(17, 203, "SuperTrend (10, 3)"); txt(240, 203, "1.275346", "#008000")
txt(360, 203, "\u2300", size=17); txt(391, 203, "\u2300", size=17)
txt(18, 913, "MACD (12, 26, close, 9)")
txt(298, 913, "0.016738", "#22ab94")
txt(418, 913, "0.058513", "#2196f3")
txt(536, 913, "0.041776", "#ff6d00")
txt(18, 1067, "RSI (14)")
txt(119, 1067, "64.96", "#7e57c2")

fig.savefig("out.png", dpi=100, facecolor="white")
